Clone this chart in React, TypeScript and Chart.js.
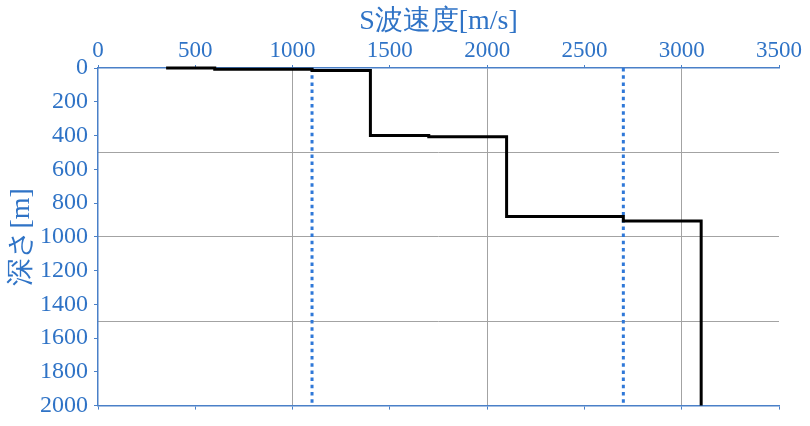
import React, { useEffect, useRef } from "react";
import { Chart, registerables } from "chart.js";

Chart.register(...registerables);

// S-wave velocity profile (step line): velocity [m/s] vs depth [m]
const profileVelocity = [350, 600, 600, 1100, 1100, 1400, 1400, 1700, 1700, 2100, 2100, 2700, 2700, 3100, 3100];
const profileDepth = [0, 0, 7, 7, 15, 15, 400, 400, 407, 407, 880, 880, 907, 907, 2000];

// Dotted reference velocities
const referenceVelocities = [1100, 2700];
const referenceDepthRange = [0, 2000];

const xTitle = "S波速度[m/s]";
const yTitle = "深さ[m]";
const xMin = 0, xMax = 3500, xStep = 500;
const yMin = 0, yMax = 2000, yStep = 200;
const xGridEvery = 1000;
const yGridEvery = 500;

const BLUE_TEXT = "#2f73c6";
const BLUE_AXIS = "#4a80c8";
const BLUE_DOT = "#2f78d8";
const GRID = "#a3a3a3";
const FONT = "Liberation Serif, DejaVu Serif, serif";

export default function App() {
  const ref = useRef<HTMLCanvasElement | null>(null);

  useEffect(() => {
    if (!ref.current) return;
    const profile = profileVelocity.map((v, i) => ({ x: v, y: profileDepth[i] }));
    const refSets = referenceVelocities.map((v) => ({
      data: referenceDepthRange.map((d) => ({ x: v, y: d })),
      borderColor: BLUE_DOT,
      borderWidth: 3,
      borderDash: [3.5, 3.7],
      borderCapStyle: "butt" as const,
      pointRadius: 0,
      showLine: true,
      fill: false,
      clip: 4,
    }));
    const chart = new Chart(ref.current, {
      type: "scatter",
      data: {
        datasets: [
          {
            data: profile,
            borderColor: "#000000",
            borderWidth: 3,
            pointRadius: 0,
            showLine: true,
            fill: false,
            clip: 4,
          } as any,
          ...(refSets as any[]),
        ],
      },
      options: {
        animation: false,
        responsive: false,
        layout: { padding: { left: 0, right: 31, top: 0, bottom: 0 } },
        plugins: { legend: { display: false }, tooltip: { enabled: false } },
        scales: {
          x: {
            type: "linear",
            position: "top",
            min: xMin,
            max: xMax,
            ticks: {
              stepSize: xStep,
              color: BLUE_TEXT,
              font: { family: FONT, size: 23 },
              padding: 0,
              maxRotation: 0,
              callback: (v: any) => String(v),
            },
            grid: {
              color: (ctx: any) =>
                ctx.tick && ctx.tick.value > 0 && ctx.tick.value < xMax && ctx.tick.value % xGridEvery === 0
                  ? GRID
                  : "rgba(0,0,0,0)",
              tickColor: BLUE_AXIS,
              tickLength: 3,
              lineWidth: 1,
            },
            border: { color: BLUE_AXIS, width: 1.5 },
            title: {
              display: true,
              text: xTitle,
              color: BLUE_TEXT,
              font: { family: FONT, size: 28 },
              padding: { top: 5, bottom: 0 },
            },
            afterFit: (s: any) => {
              s.height = 68;
            },
          },
          x2: {
            type: "linear",
            position: "bottom",
            min: xMin,
            max: xMax,
            ticks: { stepSize: xStep, display: false },
            grid: {
              drawOnChartArea: false,
              tickColor: BLUE_AXIS,
              tickLength: 4,
            },
            border: { color: BLUE_AXIS, width: 1.5 },
            afterFit: (s: any) => {
              s.height = 17;
            },
          },
          y: {
            type: "linear",
            position: "left",
            reverse: true,
            min: yMin,
            max: yMax,
            ticks: {
              stepSize: yStep,
              color: BLUE_TEXT,
              font: { family: FONT, size: 24 },
              padding: 6,
              callback: (v: any) => String(v),
            },
            grid: {
              drawOnChartArea: false,
              tickColor: BLUE_AXIS,
              tickLength: 4,
            },
            border: { color: BLUE_AXIS, width: 1.5 },
            title: {
              display: true,
              text: yTitle,
              color: BLUE_TEXT,
              font: { family: FONT, size: 28 },
              padding: { top: 5, bottom: 0 },
            },
            afterFit: (s: any) => {
              s.width = 98;
            },
          },
          y2: {
            type: "linear",
            position: "right",
            reverse: true,
            min: yMin,
            max: yMax,
            ticks: { stepSize: yGridEvery, display: false },
            grid: {
              color: (ctx: any) =>
                ctx.tick && ctx.tick.value > yMin && ctx.tick.value < yMax ? GRID : "rgba(0,0,0,0)",
              drawTicks: false,
              lineWidth: 1,
            },
            border: { display: false },
            afterFit: (s: any) => {
              s.width = 0;
            },
          },
        },
      } as any,
    });
    return () => chart.destroy();
  }, []);

  return (
    <div style={{ position: "absolute", left: 0, top: 0, width: 810, height: 426, background: "#ffffff" }}>
      <canvas ref={ref} width={810} height={426} style={{ display: "block" }} />
    </div>
  );
}
